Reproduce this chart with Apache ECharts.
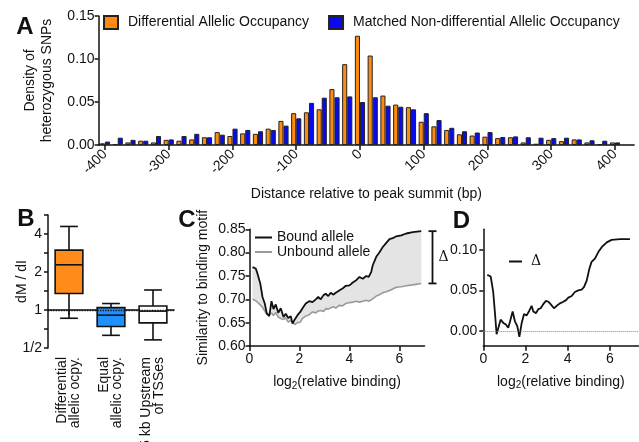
<!DOCTYPE html>
<html><head><meta charset="utf-8">
<script src="https://cdn.jsdelivr.net/npm/echarts@6/dist/echarts.min.js"></script>
<style>html,body{margin:0;padding:0;background:#fff}#c{width:639px;height:442px}</style>
</head><body><div id="c"></div>
<script>
// ---------- Panel A data ----------
const aCategories = ['-400','-380','-360','-340','-320','-300','-280','-260','-240','-220','-200','-180','-160','-140','-120','-100','-80','-60','-40','-20','0','20','40','60','80','100','120','140','160','180','200','220','240','260','280','300','320','340','360','380','400','420'];
const aTickLabels = ['-400','-300','-200','-100','0','100','200','300','400'];
const aDiffName = 'Differential Allelic Occupancy';
const aMatchName = 'Matched Non-differential Allelic Occupancy';
const aDiff = [0.002,0.001,0.003,0.005,0.003,0.006,0.005,0.0065,0.009,0.015,0.0105,0.0135,0.013,0.019,0.028,0.037,0.038,0.0415,0.065,0.094,0.127,0.104,0.0575,0.047,0.044,0.027,0.0217,0.0175,0.0125,0.011,0.0097,0.008,0.009,0.003,0.0015,0.006,0.0045,0.0065,0.003,0.001,0.003,null];
const aMatch = [0.004,0.0085,0.006,0.005,0.0105,0.0065,0.0105,0.013,0.009,0.012,0.019,0.0175,0.016,0.0175,0.0225,0.031,0.049,0.055,0.0555,0.0565,0.050,0.0555,0.0457,0.0445,0.0415,0.037,0.029,0.020,0.016,0.0145,0.015,0.0093,0.010,0.009,0.0085,0.008,0.0085,0.0065,0.0055,0.005,0.003,null];

// ---------- Panel B data ----------
const bCategories = ['Differential\nallelic ocpy.', 'Equal\nallelic ocpy.', '5 kb Upstream\nof TSSes'];
const bLow  = [0.86, 0.63, 0.58];
const bQ1   = [1.35, 0.74, 0.79];
const bMed  = [2.28, 0.91, 0.98];
const bQ3   = [2.98, 1.045, 1.077];
const bHigh = [4.59, 1.125, 1.44];
const bColors = ['#ff8c1a', '#1e90ff', '#ffffff'];
const bTickValues = [0.5, 1, 2, 4];
const bTickLabels = ['1/2', '1', '2', '4'];

// ---------- Panel C data ----------
const cX = [0.12,0.25,0.32,0.43,0.52,0.61,0.69,0.79,0.88,0.96,1.05,1.15,1.25,1.36,1.45,1.55,1.65,1.72,1.81,1.92,2.03,2.12,2.25,2.39,2.52,2.65,2.75,2.85,2.96,3.05,3.15,3.25,3.36,3.45,3.59,3.72,3.85,4.00,4.13,4.27,4.40,4.53,4.67,4.77,4.87,4.93,5.07,5.20,5.33,5.47,5.60,5.73,5.87,6.07,6.27,6.53,6.87];
const cBound = [0.769,0.766,0.755,0.734,0.705,0.691,0.670,0.664,0.696,0.679,0.689,0.671,0.681,0.662,0.669,0.660,0.664,0.648,0.657,0.666,0.673,0.681,0.691,0.696,0.694,0.700,0.705,0.700,0.709,0.712,0.707,0.714,0.710,0.714,0.719,0.723,0.729,0.730,0.736,0.741,0.748,0.744,0.750,0.748,0.759,0.773,0.791,0.801,0.812,0.821,0.829,0.831,0.835,0.837,0.841,0.844,0.846];
const cUnbound = [0.700,0.697,0.694,0.688,0.683,0.675,0.668,0.667,0.671,0.665,0.672,0.662,0.659,0.657,0.660,0.651,0.655,0.652,0.646,0.650,0.651,0.659,0.664,0.667,0.673,0.671,0.675,0.676,0.674,0.680,0.679,0.682,0.684,0.681,0.687,0.686,0.691,0.693,0.694,0.696,0.694,0.696,0.698,0.696,0.699,0.703,0.707,0.710,0.714,0.716,0.719,0.722,0.726,0.727,0.729,0.731,0.734];
const cXTicks = [0, 2, 4, 6];

// ---------- Panel D data ----------
const dX = [0.19,0.35,0.47,0.55,0.63,0.71,0.82,0.95,1.07,1.18,1.26,1.39,1.5,1.61,1.71,1.82,1.93,2.05,2.18,2.29,2.37,2.5,2.61,2.72,2.84,2.97,3.08,3.19,3.35,3.48,3.63,3.79,3.92,4.03,4.19,4.34,4.5,4.66,4.77,4.9,5.02,5.13,5.29,5.45,5.61,5.85,6.08,6.48,6.95];
const dDelta = [0.069,0.067,0.048,0.023,-0.004,-0.006,0.014,0.010,0.008,0.004,0.011,0.024,0.012,0.006,-0.007,0.010,0.021,0.019,0.025,0.031,0.024,0.022,0.027,0.028,0.033,0.037,0.036,0.033,0.028,0.031,0.034,0.036,0.038,0.041,0.043,0.048,0.050,0.051,0.054,0.062,0.076,0.085,0.089,0.097,0.103,0.109,0.112,0.113,0.113];
const dYTicks = [0, 0.05, 0.10];

// ---------- styling ----------
const FONT = "'Liberation Sans', Arial, Helvetica, sans-serif";
const SERIF = "'DejaVu Serif', 'Liberation Serif', serif";
const TXT = '#111';
const AX = {color: '#111', width: 1.5};
const lbl = (extra) => Object.assign({color: TXT, fontSize: 14, fontFamily: FONT}, extra || {});
const nameStyle = (extra) => Object.assign({color: TXT, fontSize: 14, fontFamily: FONT}, extra || {});
const subRich = {
  a: {fontSize: 14, fontFamily: FONT, color: TXT},
  s: {fontSize: 10, fontFamily: FONT, color: TXT, padding: [8, 0, 0, 0]}
};

const chart = echarts.init(document.getElementById('c'), null, {renderer: 'canvas'});

const zip = (xs, ys) => xs.map((x, i) => [x, ys[i]]);
const bData = bCategories.map((c, i) => [i, Math.log2(bLow[i]), Math.log2(bQ1[i]), Math.log2(bMed[i]), Math.log2(bQ3[i]), Math.log2(bHigh[i])]);

const option = {
  animation: false,
  backgroundColor: '#fff',
  textStyle: {fontFamily: FONT},
  grid: [
    {left: 98.6, top: 16, width: 535.5, height: 129, containLabel: false, outerBoundsMode: 'none'},
    {left: 48, top: 215, width: 126, height: 133, containLabel: false, outerBoundsMode: 'none'},
    {left: 249.5, top: 229.3, width: 175, height: 116.7, containLabel: false, outerBoundsMode: 'none'},
    {left: 483.3, top: 229.3, width: 155.1, height: 116.4, containLabel: false, outerBoundsMode: 'none'}
  ],
  legend: [
    {data: [aDiffName, aMatchName], left: 103, top: 15, padding: 0, icon: 'rect', itemWidth: 14, itemHeight: 13, itemGap: 19, selectedMode: false,
     textStyle: lbl({padding: [0, 0, 0, 5]})},
    {data: ['Bound allele', 'Unbound allele'], orient: 'vertical', left: 255, top: 230.5, padding: 0, icon: 'rect', itemWidth: 17, itemHeight: 2, itemGap: 0.5, selectedMode: false,
     textStyle: lbl()},
    {data: ['Δ'], left: 509, top: 254.5, padding: 0, icon: 'rect', itemWidth: 13, itemHeight: 2, selectedMode: false,
     textStyle: lbl({fontFamily: SERIF, padding: [0, 0, 0, 4]})}
  ],
  xAxis: [
    {type: 'category', gridIndex: 0, data: aCategories, boundaryGap: true,
     axisLine: {show: true, lineStyle: AX},
     axisTick: {show: true, alignWithLabel: true, length: 5, lineStyle: AX, interval: (i, v) => aTickLabels.includes(v)},
     axisLabel: lbl({interval: (i, v) => aTickLabels.includes(v), rotate: 45, margin: 7}),
     splitLine: {show: false},
     name: 'Distance relative to peak summit (bp)', nameLocation: 'middle', nameGap: 42, nameMoveOverlap: false, nameTextStyle: nameStyle()},
    {type: 'category', gridIndex: 1, data: bCategories, boundaryGap: true,
     axisLine: {show: true, lineStyle: AX},
     axisTick: {show: true, alignWithLabel: true, length: 5, lineStyle: AX},
     axisLabel: lbl({interval: 0, rotate: 90, margin: 9, lineHeight: 13}),
     splitLine: {show: false}},
    {type: 'value', gridIndex: 2, min: 0, max: 7,
     axisLine: {show: true, onZero: false, lineStyle: AX},
     axisTick: {show: true, length: 5, lineStyle: AX, customValues: cXTicks},
     axisLabel: lbl({customValues: cXTicks, margin: 6}),
     splitLine: {show: false},
     name: '{a|log}{s|2}{a|(relative binding)}', nameLocation: 'middle', nameGap: 27, nameMoveOverlap: false,
     nameTextStyle: nameStyle({rich: subRich})},
    {type: 'value', gridIndex: 3, min: 0, max: 7.35,
     axisLine: {show: true, onZero: false, lineStyle: AX},
     axisTick: {show: true, length: 5, lineStyle: AX, customValues: cXTicks},
     axisLabel: lbl({customValues: cXTicks, margin: 6}),
     splitLine: {show: false},
     name: '{a|log}{s|2}{a|(relative binding)}', nameLocation: 'middle', nameGap: 27, nameMoveOverlap: false,
     nameTextStyle: nameStyle({rich: subRich})}
  ],
  yAxis: [
    {type: 'value', gridIndex: 0, min: 0, max: 0.15, interval: 0.05,
     axisLine: {show: true, lineStyle: AX},
     axisTick: {show: true, length: 4, lineStyle: AX},
     axisLabel: lbl({margin: 4, formatter: v => v.toFixed(2)}),
     splitLine: {show: false},
     name: 'Density of\nheterozygous SNPs', nameLocation: 'middle', nameRotate: 90, nameGap: 43, nameMoveOverlap: false,
     nameTextStyle: nameStyle({lineHeight: 17})},
    {type: 'value', gridIndex: 1, min: -1, max: 2.5, interval: 0.5,
     axisLine: {show: true, lineStyle: AX},
     axisTick: {show: true, length: 4, lineStyle: AX},
     axisLabel: lbl({margin: 6, formatter: v => {
       const k = bTickValues.findIndex(t => Math.abs(Math.log2(t) - v) < 1e-6);
       return k >= 0 ? bTickLabels[k] : '';
     }}),
     splitLine: {show: false},
     name: 'dM / dI', nameLocation: 'middle', nameRotate: 90, nameGap: 19, nameMoveOverlap: false,
     nameTextStyle: nameStyle()},
    {type: 'value', gridIndex: 2, min: 0.6, max: 0.85, interval: 0.05,
     axisLine: {show: true, onZero: false, lineStyle: AX},
     axisTick: {show: true, length: 4, lineStyle: AX},
     axisLabel: lbl({margin: 4, formatter: v => v.toFixed(2)}),
     splitLine: {show: false},
     name: 'Similarity to binding motif', nameLocation: 'middle', nameRotate: 90, nameGap: 39, nameMoveOverlap: false,
     nameTextStyle: nameStyle()},
    {type: 'value', gridIndex: 3, min: -0.018, max: 0.125,
     axisLine: {show: true, onZero: false, lineStyle: AX},
     axisTick: {show: true, length: 4, lineStyle: AX, customValues: dYTicks},
     axisLabel: lbl({margin: 6, customValues: dYTicks, formatter: v => v.toFixed(2)}),
     splitLine: {show: false}}
  ],
  series: [
    {name: aDiffName, type: 'bar', xAxisIndex: 0, yAxisIndex: 0, data: aDiff, barGap: '0%', barCategoryGap: '20%',
     itemStyle: {color: '#ff8a12', borderColor: '#222', borderWidth: 1}},
    {name: aMatchName, type: 'bar', xAxisIndex: 0, yAxisIndex: 0, data: aMatch, barGap: '0%', barCategoryGap: '20%',
     itemStyle: {color: '#0a0af0', borderColor: '#222', borderWidth: 1}},
    {name: 'boxes', type: 'custom', xAxisIndex: 1, yAxisIndex: 1, data: bData,
     encode: {x: 0, y: [1, 2, 3, 4, 5]},
     renderItem: (params, api) => {
       const i = api.value(0);
       const bw = api.size([1, 0])[0] * 0.66;
       const cw = bw * 0.64;
       const pLo = api.coord([i, api.value(1)]);
       const pQ1 = api.coord([i, api.value(2)]);
       const pMed = api.coord([i, api.value(3)]);
       const pQ3 = api.coord([i, api.value(4)]);
       const pHi = api.coord([i, api.value(5)]);
       const cx = pMed[0];
       const st = {stroke: '#111', lineWidth: 1.6, fill: null};
       return {type: 'group', children: [
         {type: 'line', shape: {x1: cx, y1: pLo[1], x2: cx, y2: pQ1[1]}, style: st},
         {type: 'line', shape: {x1: cx, y1: pQ3[1], x2: cx, y2: pHi[1]}, style: st},
         {type: 'line', shape: {x1: cx - cw / 2, y1: pLo[1], x2: cx + cw / 2, y2: pLo[1]}, style: st},
         {type: 'line', shape: {x1: cx - cw / 2, y1: pHi[1], x2: cx + cw / 2, y2: pHi[1]}, style: st},
         {type: 'rect', shape: {x: cx - bw / 2, y: pQ3[1], width: bw, height: pQ1[1] - pQ3[1]},
          style: {fill: bColors[params.dataIndex], stroke: '#111', lineWidth: 1.6}},
         {type: 'line', shape: {x1: cx - bw / 2, y1: pMed[1], x2: cx + bw / 2, y2: pMed[1]}, style: st}
       ]};
     },
     markLine: {silent: true, symbol: 'none', label: {show: false}, animation: false,
       lineStyle: {type: 'dotted', color: '#111', width: 1.3}, data: [{yAxis: 0}]}
    },
    {name: 'band', type: 'custom', xAxisIndex: 2, yAxisIndex: 2, silent: true,
     data: [[cX[0], cBound[0]]], encode: {x: 0, y: 1},
     renderItem: (params, api) => {
       const top = cX.map((x, i) => api.coord([x, cBound[i]]));
       const bot = cX.map((x, i) => api.coord([x, cUnbound[i]])).reverse();
       return {type: 'polygon', shape: {points: top.concat(bot)}, style: {fill: '#e4e4e4', stroke: null}};
     }},
    {name: 'Unbound allele', type: 'line', xAxisIndex: 2, yAxisIndex: 2, data: zip(cX, cUnbound), symbol: 'none',
     color: '#9a9a9a', itemStyle: {color: '#9a9a9a'}, lineStyle: {color: '#9a9a9a', width: 1.6}},
    {name: 'Bound allele', type: 'line', xAxisIndex: 2, yAxisIndex: 2, data: zip(cX, cBound), symbol: 'none',
     color: '#111', itemStyle: {color: '#111'}, lineStyle: {color: '#111', width: 1.8}},
    {name: 'Δ', type: 'line', xAxisIndex: 3, yAxisIndex: 3, data: zip(dX, dDelta), symbol: 'none',
     color: '#111', itemStyle: {color: '#111'}, lineStyle: {color: '#111', width: 1.8},
     markLine: {silent: true, symbol: 'none', label: {show: false}, animation: false,
       lineStyle: {type: 'dotted', color: '#888', width: 1}, data: [{yAxis: 0}]}}
  ]
};
chart.setOption(option);

// Bracket between the end values of the bound and unbound curves (panel C)
const bracketX = 7.32;
const pTop = chart.convertToPixel({gridIndex: 2}, [bracketX, cBound[cBound.length - 1]]);
const pBot = chart.convertToPixel({gridIndex: 2}, [bracketX, cUnbound[cUnbound.length - 1]]);
const bst = {stroke: '#111', lineWidth: 1.8};
const panelLabel = (t, x, y) => ({type: 'text', x: x, y: y, style: {text: t, fontSize: 24, fontWeight: 'bold', fontFamily: FONT, fill: '#111', align: 'center', verticalAlign: 'middle'}});
chart.setOption({
  graphic: [
    panelLabel('A', 25, 27),
    panelLabel('B', 26, 219),
    panelLabel('C', 187, 220),
    panelLabel('D', 461.5, 221),
    {type: 'line', shape: {x1: pTop[0], y1: pTop[1], x2: pBot[0], y2: pBot[1]}, style: bst},
    {type: 'line', shape: {x1: pTop[0] - 4, y1: pTop[1], x2: pTop[0] + 4, y2: pTop[1]}, style: bst},
    {type: 'line', shape: {x1: pBot[0] - 4, y1: pBot[1], x2: pBot[0] + 4, y2: pBot[1]}, style: bst},
    {type: 'text', x: pTop[0] + 6, y: (pTop[1] + pBot[1]) / 2, style: {text: 'Δ', fontSize: 14, fontFamily: SERIF, fill: '#111', align: 'left', verticalAlign: 'middle'}}
  ]
});
</script></body></html>
